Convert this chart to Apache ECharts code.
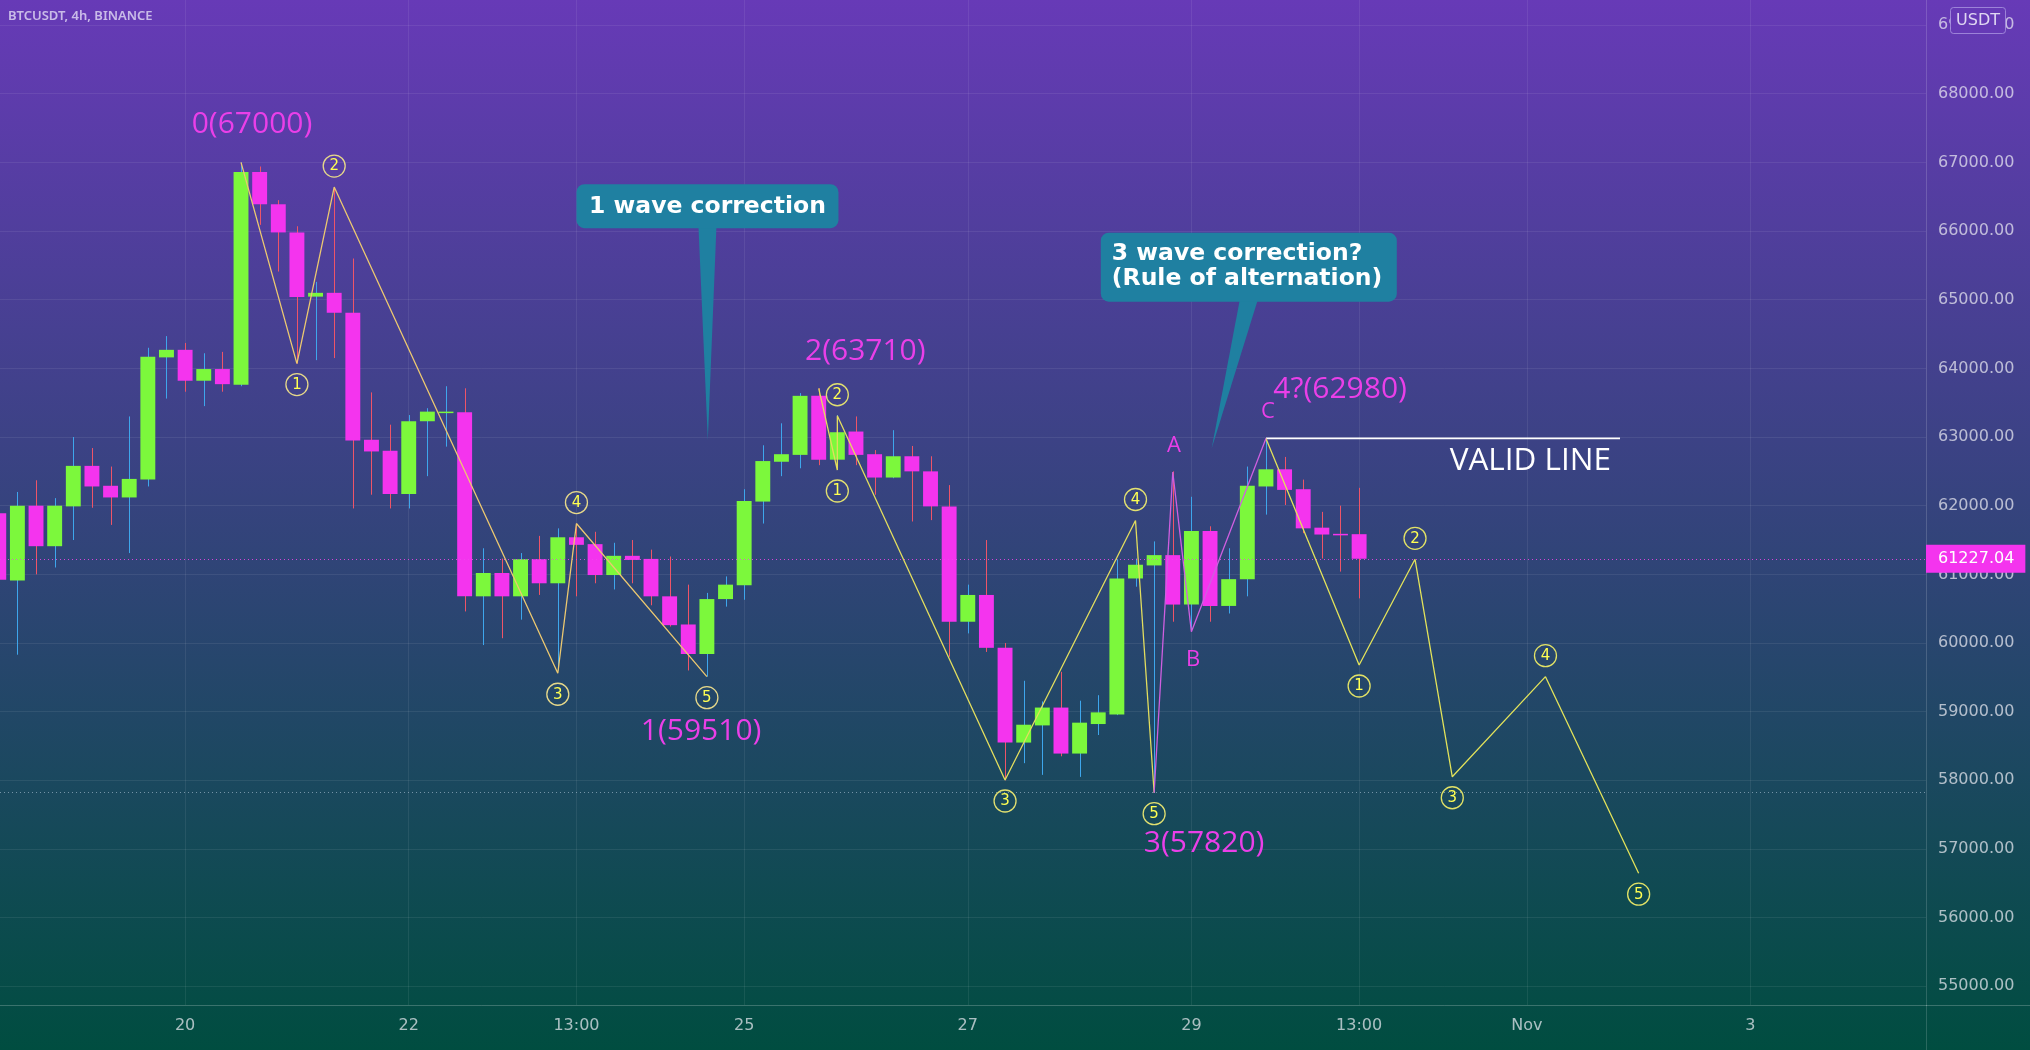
<!DOCTYPE html>
<html>
<head>
<meta charset="utf-8">
<script src="https://cdn.jsdelivr.net/npm/echarts@6/dist/echarts.min.js"></script>
<style>
html,body{margin:0;padding:0;width:2030px;height:1050px;overflow:hidden;background:linear-gradient(to bottom,#673ab7 0%,#004d40 100%);}
#chart{width:2030px;height:1050px;}
</style>
</head>
<body>
<div id="chart"></div>
<script>
// ---------- DATA ----------
// 4h bar index (0 = first, partially visible bar)
const bars   = [0,1,2,3,4,5,6,7,8,9,10,11,12,13,14,15,16,17,18,19,20,21,22,23,24,25,26,27,28,29,30,31,32,33,34,35,36,37,38,39,40,41,42,43,44,45,46,47,48,49,50,51,52,53,54,55,56,57,58,59,60,61,62,63,64,65,66,67,68,69,70,71,72,73];
const opens  = [61890,60910,62000,61410,61990,62580,62290,62120,62380,64160,64270,63820,63990,63760,66860,66390,65980,65045,65100,64810,62960,62800,62170,63230,63360,63360,60680,61020,60680,61220,60870,61540,61440,60990,61270,61225,60680,60270,59840,60640,60840,62060,62640,62740,63600,62670,63080,62750,62410,62720,62500,61990,60310,60700,59930,58550,58800,59060,58390,58820,58960,60940,61130,61280,60560,61630,60540,60930,62280,62530,62240,61680,61590,61585];
const closes = [60920,62000,61410,62000,62580,62280,62120,62390,64170,64270,63820,63990,63770,66860,66390,65980,65040,65100,64810,62950,62790,62170,63230,63370,63370,60680,61020,60680,61220,60870,61540,61430,60990,61270,61210,60680,60260,59840,60640,60850,62070,62650,62750,63600,62670,63070,62740,62410,62720,62500,61990,60310,60700,59930,58550,58810,59060,58390,58840,58990,60940,61140,61280,60560,61630,60540,60930,62290,62530,62230,61670,61580,61585,61227.04];
const lows   = [60850,59830,61000,61100,61500,61970,61720,61310,62280,63560,63660,63450,63660,63740,66090,65410,64070,64120,64150,61960,62160,61960,61960,62430,62860,60460,59970,60070,60340,60700,59600,60680,60870,60780,60870,60550,60240,59600,59510,60530,60630,61740,62430,62545,62590,62520,62590,62160,62400,61770,61790,59800,60140,59870,58000,58250,58080,58350,58050,58660,58950,60820,57820,60310,60170,60310,60430,60680,61870,62010,61600,61230,61040,60650];
const highs  = [62050,62200,62370,62110,63000,62840,62570,63300,64300,64470,64370,64220,64240,67000,66940,66450,66070,65260,66640,65600,63650,63180,63320,63420,63740,63710,61380,61230,61310,61560,61670,61730,61620,61460,61500,61360,61260,60850,60730,60970,62240,62880,63200,63640,63710,63320,63300,62810,63100,62870,62720,62300,60850,61500,60000,59450,59150,59580,59160,59240,61220,61230,61480,62500,62130,61700,61380,62570,62980,62710,62380,61910,62000,62260];
const lastPrice = 61227.04;
const supportPrice = 57820;

// axis ticks
const xTickBars  = [10,22,31,40,52,64,73,82,94];
const xTickText  = ['20','22','13:00','25','27','29','13:00','Nov','3'];
const yTicks     = [55000,56000,57000,58000,59000,60000,61000,62000,63000,64000,65000,66000,67000,68000,69000];

// Elliott wave drawings [bar, price]
const waveA   = [[13,67000],[16,64070],[18,66640],[30,59560],[31,61740],[38,59510]];
const waveB   = [[44,63710],[45,62520],[45,63310],[54,58005],[61,61784],[62,57820]];
const waveC   = [[68,62980],[73,59680],[76,61219],[78,58052],[83,59510],[88,56648]];
const waveABC = [[62,57820],[63,62490],[64,60165],[68,62980]];
const waveNums = ['1','2','3','4','5'];
const waveSide = [1,-1,1,-1,1];      // 1 = label below the point, -1 = above
const validLine = [[68,62980],[87,62980]];

// text annotations anchored at [bar, price]
const noteAnchors = [[13.59,67559],[46.5,64240],[37.69,58705],[64.68,57074],[71.98,63686],[63.07,62870],[64.09,59753],[68.11,63365],[86.52,62651]];
const noteTexts   = ['0(67000)','2(63710)','1(59510)','3(57820)','4?(62980)','A','B','C','VALID LINE'];

// callouts: tip [bar, price], box centre [bar, price]
const calloutTips  = [[38.05,62957],[65.09,62836]];
const calloutBoxes = [[38.03,66362],[67.08,65474]];
const calloutTexts = [['1 wave correction'],['3 wave correction?','(Rule of alternation)']];

// ---------- STYLE ----------
const UP = '#7cf83c', DN = '#f434ee', WICK_UP = '#3ea6ec', WICK_DN = '#ee5468';
const MAG_TXT = '#ea3fe8';
const AXIS_TXT = 'rgba(236,236,242,0.72)';
const GRID_LINE = 'rgba(255,255,255,0.075)';

const candleData = bars.map((b, k) => [b, opens[k], closes[k], lows[k], highs[k]]);

function renderCandle(params, api) {
  const x = api.value(0), o = api.value(1), c = api.value(2), l = api.value(3), h = api.value(4);
  const pO = api.coord([x, o]), pC = api.coord([x, c]), pL = api.coord([x, l]), pH = api.coord([x, h]);
  const w = api.size([1, 0])[0] * 0.8;
  const up = c >= o;
  const top = Math.min(pO[1], pC[1]);
  const ht = Math.max(1.5, Math.abs(pO[1] - pC[1]));
  const cx = Math.round(pO[0]) + 0.5;
  return {type: 'group', children: [
    {type: 'line', shape: {x1: cx, y1: pH[1], x2: cx, y2: pL[1]}, style: {stroke: up ? WICK_UP : WICK_DN, lineWidth: 1}},
    {type: 'rect', shape: {x: pO[0] - w / 2, y: top, width: w, height: ht}, style: {fill: up ? UP : DN}}
  ]};
}

function waveLabelSeries(points, color) {
  const data = points.slice(1).map((p, k) => [p[0], p[1], waveSide[k], k]);
  return {
    type: 'custom', silent: true, z: 6, data: data,
    renderItem: function (params, api) {
      const pt = api.coord([api.value(0), api.value(1)]);
      const cy = pt[1] + api.value(2) * 21;
      const txt = waveNums[api.value(3)];
      return {type: 'group', children: [
        {type: 'circle', shape: {cx: pt[0], cy: cy, r: 11}, style: {fill: 'rgba(0,0,0,0)', stroke: color, lineWidth: 1.3}},
        {type: 'text', style: {text: txt, x: pt[0], y: cy + 0.5, fill: '#ffff52', font: '15px "DejaVu Sans"', textAlign: 'center', textVerticalAlign: 'middle', align: 'center', verticalAlign: 'middle'}}
      ]};
    }
  };
}

function waveLine(points, color, z) {
  return {type: 'line', data: points, showSymbol: false, symbol: 'none', silent: true, z: z || 4,
          lineStyle: {color: color, width: 1.3}, animation: false};
}

const chart = echarts.init(document.getElementById('chart'), null, {renderer: 'canvas'});

const option = {
  backgroundColor: 'transparent',
  animation: false,
  grid: {left: 0, right: 104, top: 0, bottom: 45, containLabel: false},
  xAxis: {
    type: 'value', min: 0.0665, max: 103.42,
    axisLine: {show: true, lineStyle: {color: 'rgba(255,255,255,0.22)', width: 1}},
    axisTick: {show: false, customValues: xTickBars},
    axisLabel: {customValues: xTickBars, margin: 13, color: AXIS_TXT, fontSize: 16, fontFamily: 'DejaVu Sans',
      formatter: function (v) { const k = xTickBars.indexOf(Math.round(v)); return k >= 0 ? xTickText[k] : ''; }},
    splitLine: {show: true, lineStyle: {color: GRID_LINE, width: 1}}
  },
  yAxis: {
    type: 'value', position: 'right', min: 54728, max: 69365, scale: true,
    axisLine: {show: true, lineStyle: {color: 'rgba(255,255,255,0.16)', width: 1}},
    axisTick: {show: false, customValues: yTicks},
    axisLabel: {customValues: yTicks, margin: 12, color: AXIS_TXT, fontSize: 16, fontFamily: 'DejaVu Sans',
      formatter: function (v) { return v.toFixed(2); }},
    splitLine: {show: true, lineStyle: {color: GRID_LINE, width: 1}}
  },
  series: [
    {type: 'custom', name: 'BTCUSDT', z: 2, data: candleData, renderItem: renderCandle,
     encode: {x: 0, y: [1, 2, 3, 4]}, silent: true},
    {type: 'line', data: validLine, showSymbol: false, symbol: 'none', silent: true, z: 4,
     lineStyle: {color: '#ffffff', width: 1.6},
     markLine: {symbol: ['none', 'none'], silent: true, animation: false, z: 3,
       data: [
         {yAxis: lastPrice, lineStyle: {color: 'rgba(240,70,236,0.85)', type: [1, 3], width: 1},
          label: {show: true, position: 'end', distance: 0, formatter: function (p) { return Number(p.value).toFixed(2); },
                  backgroundColor: DN, color: '#ffffff', padding: [6, 11, 6, 12], fontSize: 16, fontFamily: 'DejaVu Sans'}},
         {yAxis: supportPrice, lineStyle: {color: 'rgba(190,210,225,0.55)', type: [1, 3], width: 1}, label: {show: false}}
       ]}},
    waveLine(waveA, '#ecc870', 4),
    waveLine(waveB, '#e2dd5e', 4),
    waveLine(waveC, '#e2e25a', 4),
    waveLine(waveABC, '#cf5fe0', 4),
    waveLabelSeries(waveA, '#e6d88a'),
    waveLabelSeries(waveB, '#e2e070'),
    waveLabelSeries(waveC, '#e2e266'),
    {type: 'custom', silent: true, z: 7, data: noteAnchors,
     renderItem: function (params, api) {
       const k = params.dataIndex;
       const pt = api.coord([api.value(0), api.value(1)]);
       const txt = noteTexts[k];
       const single = txt.length === 1;
       const isValid = txt === 'VALID LINE';
       return {type: 'text', style: {text: txt, x: pt[0], y: pt[1],
         fill: isValid ? '#ffffff' : MAG_TXT,
         font: (single ? '500 22px' : (isValid ? '31.5px' : '30px')) + ' "Open Sans"',
         textAlign: isValid ? 'right' : 'center', align: isValid ? 'right' : 'center',
         textVerticalAlign: 'middle', verticalAlign: 'middle'}};
     }},
    {type: 'custom', silent: true, z: 8, data: calloutTips.map((t, k) => [t[0], t[1], calloutBoxes[k][0], calloutBoxes[k][1]]),
     renderItem: function (params, api) {
       const k = params.dataIndex;
       const tip = api.coord([api.value(0), api.value(1)]);
       const bc = api.coord([api.value(2), api.value(3)]);
       const lines = calloutTexts[k];
       const bw = k === 0 ? 262 : 296, bh = k === 0 ? 44 : 69;
       const bx = bc[0] - bw / 2, by = bc[1] - bh / 2;
       const baseX = bc[0];
       const color = '#1f80a1';
       const children = [
         {type: 'polygon', shape: {points: [[baseX - 9, by + bh - 2], [baseX + 9, by + bh - 2], [tip[0], tip[1]]]}, style: {fill: color}},
         {type: 'rect', shape: {x: bx, y: by, width: bw, height: bh, r: 8}, style: {fill: color}}
       ];
       if (lines.length === 1) {
         children.push({type: 'text', style: {text: lines[0], x: bc[0], y: bc[1] + 1, fill: '#ffffff', font: 'bold 23.5px "DejaVu Sans"',
           textAlign: 'center', align: 'center', textVerticalAlign: 'middle', verticalAlign: 'middle'}});
       } else {
         lines.forEach(function (ln, j) {
           children.push({type: 'text', style: {text: ln, x: bx + 11, y: by + 21 + j * 25, fill: '#ffffff', font: 'bold 23.5px "DejaVu Sans"',
             textAlign: 'left', align: 'left', textVerticalAlign: 'middle', verticalAlign: 'middle'}});
         });
       }
       return {type: 'group', children: children};
     }}
  ],
  graphic: [
    {type: 'text', left: 8, top: 10, z: 10, style: {text: 'BTCUSDT, 4h, BINANCE', fill: 'rgba(226,220,245,0.8)', font: '600 13px "Noto Sans"'}},
    {type: 'rect', z: 10, shape: {x: 1950.5, y: 7.5, width: 55, height: 26, r: 3}, style: {fill: '#663ab6', stroke: 'rgba(170,150,225,0.8)', lineWidth: 1}},
    {type: 'text', z: 11, style: {text: 'USDT', x: 1978, y: 21, fill: 'rgba(236,232,248,0.9)', font: '16px "DejaVu Sans"', textAlign: 'center', textVerticalAlign: 'middle', align: 'center', verticalAlign: 'middle'}},
    {type: 'line', z: 1, shape: {x1: 1926.5, y1: 1005, x2: 1926.5, y2: 1050}, style: {stroke: 'rgba(255,255,255,0.16)', lineWidth: 1}},
    {type: 'line', z: 1, shape: {x1: 1926, y1: 1005.5, x2: 2030, y2: 1005.5}, style: {stroke: 'rgba(255,255,255,0.22)', lineWidth: 1}}
  ]
};
chart.setOption(option);
</script>
</body>
</html>
